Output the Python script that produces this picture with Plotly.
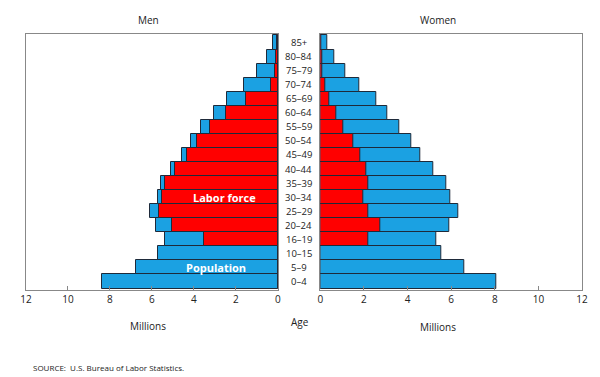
import plotly.graph_objects as go

ages = ["0–4", "5–9", "10–15", "16–19", "20–24", "25–29", "30–34", "35–39", "40–44",
        "45–49", "50–54", "55–59", "60–64", "65–69", "70–74", "75–79", "80–84", "85+"]

men_population = [8.36, 6.78, 5.69, 5.36, 5.79, 6.07, 5.72, 5.57, 5.11,
                  4.56, 4.16, 3.64, 3.06, 2.41, 1.61, 0.99, 0.50, 0.24]
men_labor = [0, 0, 0, 3.50, 5.06, 5.65, 5.51, 5.36, 4.89,
             4.33, 3.86, 3.23, 2.46, 1.50, 0.31, 0.12, 0.07, 0.05]

women_population = [8.08, 6.60, 5.53, 5.30, 5.91, 6.32, 5.97, 5.77, 5.16,
                    4.58, 4.16, 3.64, 3.05, 2.59, 1.81, 1.13, 0.63, 0.34]
women_labor = [0, 0, 0, 2.20, 2.74, 2.22, 1.99, 2.20, 2.10,
               1.82, 1.49, 1.07, 0.72, 0.41, 0.23, 0.10, 0.07, 0.05]

x_ticks = [0, 2, 4, 6, 8, 10, 12]

BLUE = "#1BA1E2"
RED = "#FF0000"
EDGE = "#1E2A3A"
FONT = "Open Sans, Noto Sans, sans-serif"

fig = go.Figure()
for xs, ax, color, name in [
    (men_population, ("x", "y"), BLUE, "Men population"),
    (men_labor, ("x", "y"), RED, "Men labor force"),
    (women_population, ("x2", "y2"), BLUE, "Women population"),
    (women_labor, ("x2", "y2"), RED, "Women labor force"),
]:
    fig.add_trace(go.Bar(
        x=xs, y=ages, orientation="h", name=name,
        xaxis=ax[0], yaxis=ax[1],
        marker=dict(color=color, line=dict(color=EDGE, width=1)),
        showlegend=False, hoverinfo="x+y",
    ))

axis_common = dict(
    showgrid=False, zeroline=False, showline=True, linecolor="#888888",
    linewidth=1, mirror=True, ticks="inside", ticklen=4, tickcolor="#888888",
    tickvals=x_ticks, ticktext=[str(v) for v in x_ticks],
    tickfont=dict(size=10, color="#222", family=FONT),
)
yaxis_common = dict(
    type="category", categoryorder="array", categoryarray=ages,
    showgrid=False, zeroline=False, showline=True, linecolor="#888888",
    linewidth=1, mirror=True, ticks="", showticklabels=False,
)

# page body adds an 8px offset; compensate
OFF = 8
fig.update_layout(
    width=600 - OFF, height=377 - OFF,
    margin=dict(l=24 - OFF, r=13, t=34 - OFF, b=377 - OFF - (34 - OFF) - 256),
    paper_bgcolor="white", plot_bgcolor="white",
    barmode="overlay", bargap=0,
    font=dict(family=FONT, color="#222"),
    xaxis=dict(domain=[0, 0.453], range=[12, 0], anchor="y", **axis_common),
    xaxis2=dict(domain=[0.5293, 1], range=[0, 12], anchor="y2", **axis_common),
    yaxis=dict(anchor="x", **yaxis_common),
    yaxis2=dict(anchor="x2", matches="y", **yaxis_common),
)

annotations = []
for a in ages:
    annotations.append(dict(
        x=0.4910, y=a, xref="paper", yref="y", text=a, showarrow=False,
        xanchor="center", yanchor="middle", font=dict(size=9.5, color="#222", family=FONT),
    ))

W, H = 563, 256
def px(xp):
    return (xp - 24) / W
def py(yp):
    return (290 - yp) / H

def ptext(txt, x, y, size=10, xanchor="center"):
    annotations.append(dict(
        x=px(x), y=py(y), xref="paper", yref="paper", text=txt, showarrow=False,
        xanchor=xanchor, yanchor="middle", font=dict(size=size, color="#222", family=FONT),
    ))

ptext("Men", 148, 20)
ptext("Women", 441, 20)
ptext("Millions", 148, 326)
ptext("Millions", 441, 327)
ptext("Age", 301, 322)
ptext("SOURCE:  U.S. Bureau of Labor Statistics.", 29, 367, size=8, xanchor="left")

annotations.append(dict(
    x=2.54, y="30–34", xref="x", yref="y", text="<b>Labor force</b>", showarrow=False,
    xanchor="center", yanchor="middle", font=dict(size=11, color="white", family=FONT),
))
annotations.append(dict(
    x=2.96, y="5–9", xref="x", yref="y", text="<b>Population</b>", showarrow=False,
    xanchor="center", yanchor="middle", font=dict(size=11, color="white", family=FONT),
))

fig.update_layout(annotations=annotations)
fig.write_html("out.html")
